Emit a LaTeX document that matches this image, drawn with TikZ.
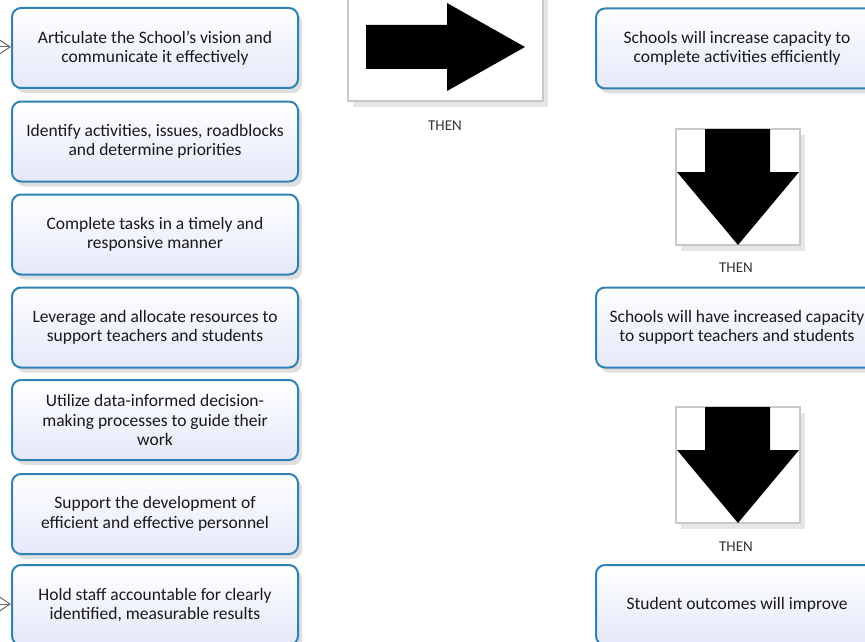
\documentclass[tikz,border=0pt]{standalone}
\usepackage{fontspec}
\setmainfont{Carlito}
\usetikzlibrary{shadows,arrows.meta}

\definecolor{boxblue}{RGB}{49,130,180}
\definecolor{boxfill}{RGB}{228,232,249}
\definecolor{framegray}{RGB}{200,200,200}

\tikzset{
  task/.style={rectangle, rounded corners=9pt, draw=boxblue, line width=2pt,
    top color=white, bottom color=boxfill, minimum width=286pt, minimum height=80pt,
    inner sep=0pt, align=center, font=\fontsize{17.5}{19.5}\selectfont, text=black!90,
    drop shadow={shadow xshift=4pt, shadow yshift=-5pt, opacity=0.25, fill=black!50}},
  outcome/.style={task, minimum width=282pt},
  arrowbox/.style={rectangle, draw=framegray, line width=1.2pt, fill=white,
    inner sep=0pt, drop shadow={shadow xshift=5pt, shadow yshift=-6pt, opacity=0.2, fill=black!50}},
  thenlabel/.style={font=\fontsize{15}{16}\selectfont, text=black!80, inner sep=0pt},
  feed/.style={draw=black!60, line width=1pt, -{Straight Barb[length=12pt,width=16pt]}}
}

\begin{document}
\begin{tikzpicture}[x=1pt, y=-1pt]
\useasboundingbox (0,0) rectangle (865,642);
\clip (0,0) rectangle (865,642);

% left column: what the school does
\node[task] (a1) at (155,48) {Articulate the School's vision and\\communicate it effectively};
\node[task] (a2) at (155,141.5) {Identify activities, issues, roadblocks\\and determine priorities};
\node[task] (a3) at (155,234.5) {Complete tasks in a timely and\\responsive manner};
\node[task] (a4) at (155,327.5) {Leverage and allocate resources to\\support teachers and students};
\node[task] (a5) at (155,420) {Utilize data-informed decision-\\making processes to guide their\\work};
\node[task] (a6) at (155,514) {Support the development of\\efficient and effective personnel};
\node[task] (a7) at (155,605) {Hold staff accountable for clearly\\identified, measurable results};

% incoming connectors
\coordinate (in1) at (-25,47);
\coordinate (in7) at (-25,604);
\draw[feed] (in1) -- (a1.west |- in1);
\draw[feed] (in7) -- (a7.west |- in7);

% middle: right arrow
\node[arrowbox, minimum width=195pt, minimum height=130pt] (r0) at (445.5,36) {};
\fill (366,25) -- (447,25) -- (447,3) -- (525,47) -- (447,91) -- (447,69) -- (366,69) -- cycle;
\node[thenlabel] (t0) at (445,126) {THEN};

% right column: results
\node[outcome] (b1) at (737,48.5) {Schools will increase capacity to\\complete activities efficiently};

\node[arrowbox, minimum width=124pt, minimum height=116pt] (d1) at (738,187) {};
\fill (705,129) -- (770,129) -- (770,172) -- (799,172) -- (738,245) -- (677,172) -- (705,172) -- cycle;
\node[thenlabel] (t1) at (736,268) {THEN};

\node[outcome] (b2) at (737,327.5) {Schools will have increased capacity\\to support teachers and students};

\node[arrowbox, minimum width=124pt, minimum height=116pt] (d2) at (738,465) {};
\fill (705,407) -- (770,407) -- (770,450) -- (799,450) -- (738,523) -- (677,450) -- (705,450) -- cycle;
\node[thenlabel] (t2) at (736,547) {THEN};

\node[outcome] (b3) at (737,605) {Student outcomes will improve};
\end{tikzpicture}
\end{document}
